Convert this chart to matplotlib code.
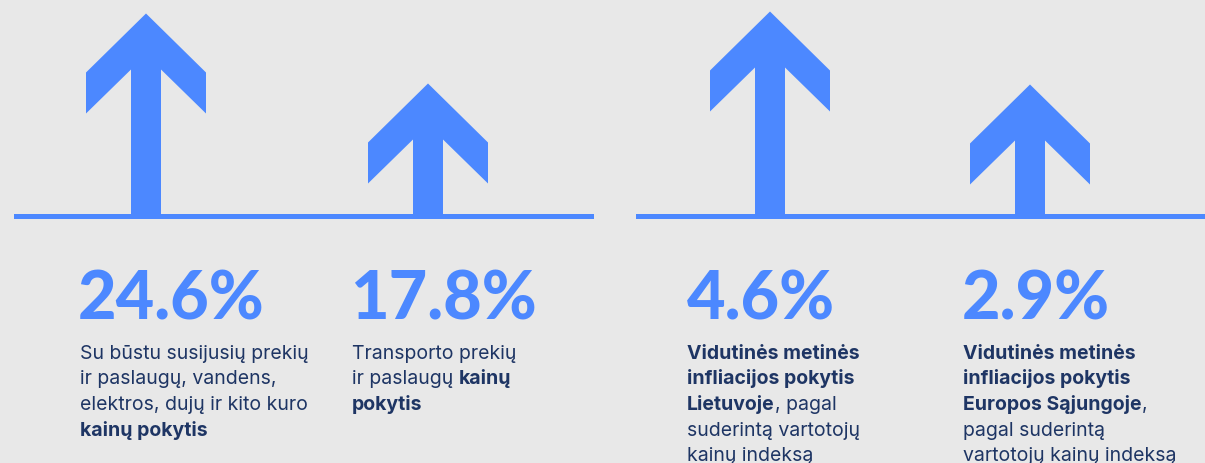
import matplotlib
matplotlib.use("Agg")
import matplotlib.pyplot as plt
from matplotlib.patches import Rectangle

# %% data
values = ["24.6%", "17.8%", "4.6%", "2.9%"]
# arrow lengths above the baseline (visual only, px)
arrow_len = [203, 133, 205, 132]
captions = [
    [[("Su būstu susijusių prekių", False)],
     [("ir paslaugų, vandens,", False)],
     [("elektros, dujų ir kito kuro", False)],
     [("kainų pokytis", True)]],
    [[("Transporto prekių", False)],
     [("ir paslaugų ", False), ("kainų", True)],
     [("pokytis", True)]],
    [[("Vidutinės metinės", True)],
     [("infliacijos pokytis", True)],
     [("Lietuvoje", True), (", pagal", False)],
     [("suderintą vartotojų", False)],
     [("kainų indeksą", False)]],
    [[("Vidutinės metinės", True)],
     [("infliacijos pokytis", True)],
     [("Europos Sąjungoje", True), (",", False)],
     [("pagal suderintą", False)],
     [("vartotojų kainų indeksą", False)]],
]

# %% layout
BG = "#e8e8e8"
BLUE = "#4c88ff"
NAVY = "#1e3564"
FONT = "Inter"
BIG_FONT = "Lato"

arrow_x = [146, 428, 770, 1030]
text_x = [80, 352, 687, 963]
big_dx = [-2, -2, 0, -1]
base_y = 216.5
segments = [(14, 594), (636, 1205)]

fig = plt.figure(figsize=(12.05, 4.63), dpi=100, facecolor=BG)
ax = fig.add_axes([0, 0, 1, 1])
ax.set_xlim(0, 1205)
ax.set_ylim(463, 0)
ax.set_facecolor(BG)
ax.axis("off")

for x0, x1 in segments:
    ax.add_patch(Rectangle((x0, base_y - 2.5), x1 - x0, 5, color=BLUE, lw=0))


def arrow(cx, length):
    t = base_y - length
    xs = [cx, cx + 60, cx + 60, cx + 15, cx + 15, cx - 15, cx - 15, cx - 60, cx - 60]
    ys = [t, t + 59, t + 100, t + 56, base_y, base_y, t + 56, t + 100, t + 59]
    ax.fill(xs, ys, color=BLUE, lw=0)


for cx, ln in zip(arrow_x, arrow_len):
    arrow(cx, ln)

renderer = fig.canvas.get_renderer()


def text_width(s, bold, size):
    # measure with a trailing dot so that spaces are counted
    w = []
    for txt in (s + ".", "."):
        t = ax.text(0, 0, txt, fontsize=size, family=FONT,
                    fontweight="bold" if bold else "normal")
        w.append(t.get_window_extent(renderer).width)
        t.remove()
    return w[0] - w[1]


for x, dx, val, lines in zip(text_x, big_dx, values, captions):
    ax.text(x + dx, 320, val, fontsize=48, family=BIG_FONT, fontweight="black",
            color=BLUE, va="baseline", ha="left")
    for i, line in enumerate(lines):
        y = 359 + i * 25.5
        cur = x
        for seg, bold in line:
            ax.text(cur, y, seg, fontsize=14, family=FONT, color=NAVY,
                    fontweight="bold" if bold else "normal",
                    va="baseline", ha="left")
            cur += text_width(seg, bold, 14)

plt.savefig("out.png", dpi=100, facecolor=BG)
